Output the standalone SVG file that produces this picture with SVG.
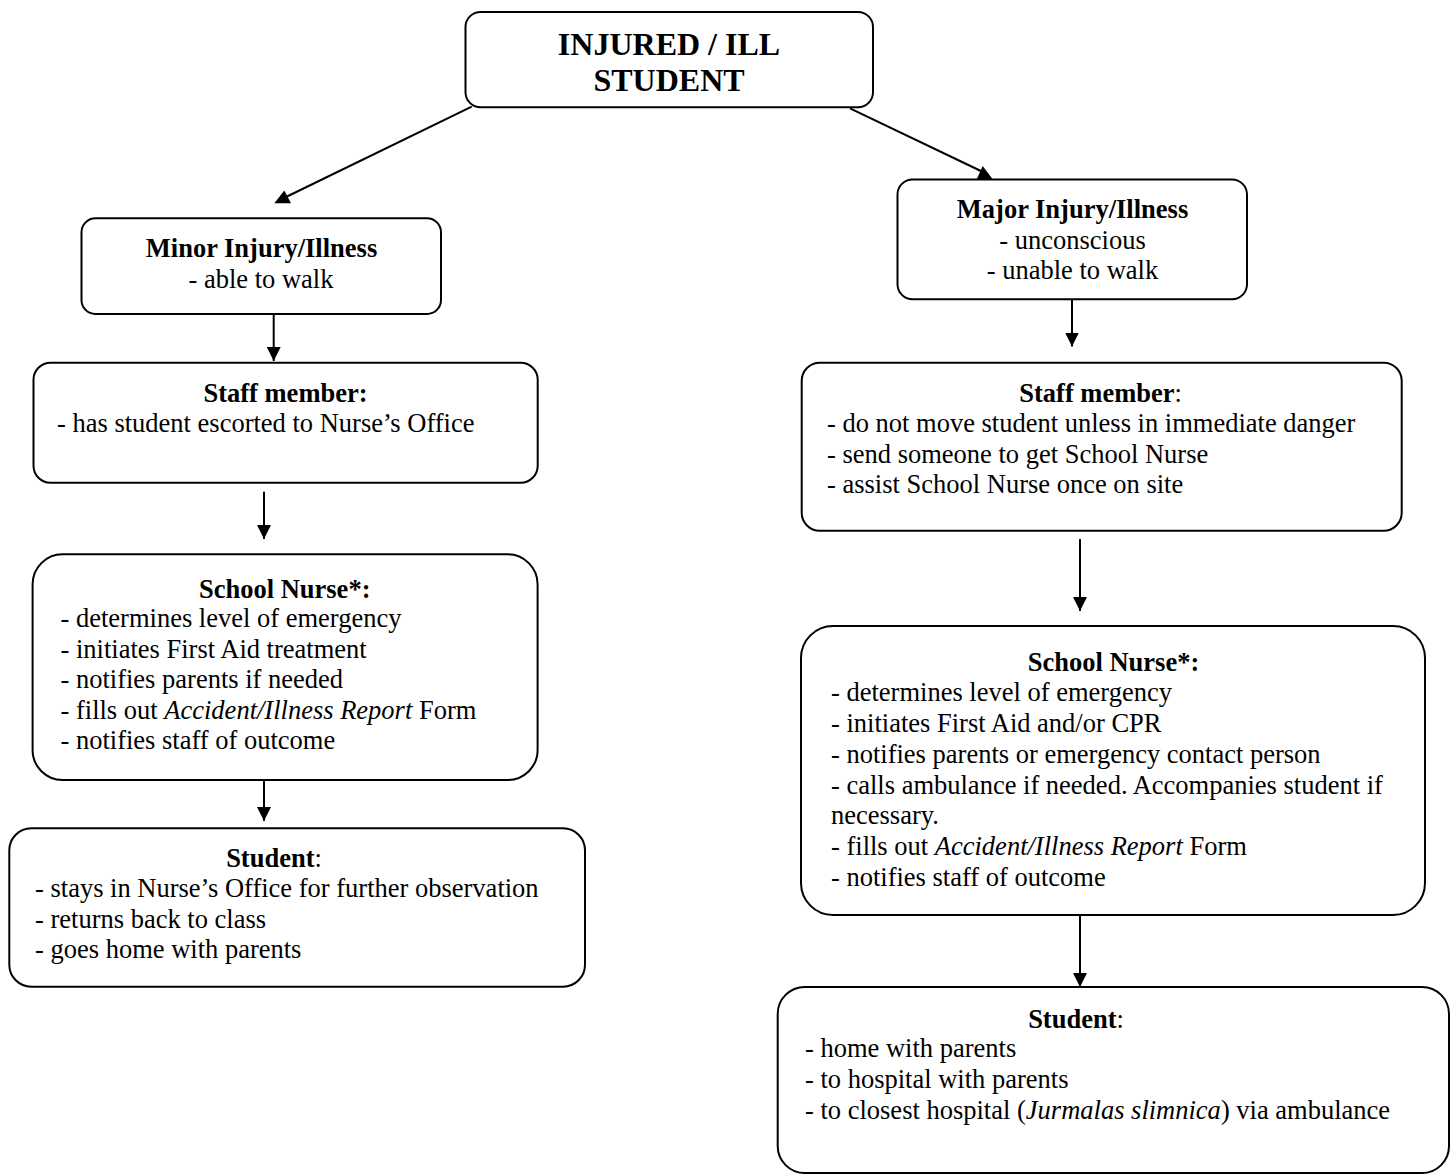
<svg xmlns="http://www.w3.org/2000/svg" width="1455" height="1175" viewBox="0 0 1455 1175">
<defs>
<marker id="ah" viewBox="0 0 14 14" refX="14" refY="7" markerWidth="14" markerHeight="14" markerUnits="userSpaceOnUse" orient="auto">
<path d="M0,0 L14,7 L0,14 z" fill="#000"/>
</marker>
<style>
.box{fill:#fff;stroke:#000;stroke-width:2}
.t{font-family:"Liberation Serif","Times New Roman",serif;font-size:26.5px;fill:#000}
.b{font-weight:bold}
.i{font-style:italic}
.c{text-anchor:middle}
.big{font-size:32px;font-weight:bold}
.con{stroke:#000;stroke-width:2;fill:none}
.con-v{stroke:#000;stroke-width:2;fill:none;marker-end:url(#ah)}
</style>
</defs>
<rect width="1455" height="1175" fill="#fff"/>

<g id="connectors">
<line class="con" x1="471.7" y1="106.7" x2="286" y2="197"/>
<polygon points="274.3,203.3 291,203.3 284.3,190.5" fill="#000"/>
<line class="con" x1="850" y1="108.3" x2="983" y2="172"/>
<polygon points="976.7,179.3 992.7,179.3 982.7,166" fill="#000"/>
<line class="con-v" x1="273.7" y1="314" x2="273.7" y2="361"/>
<line class="con-v" x1="264" y1="491.7" x2="264" y2="539"/>
<line class="con-v" x1="264" y1="780" x2="264" y2="821"/>
<line class="con-v" x1="1072" y1="299" x2="1072" y2="346.5"/>
<line class="con-v" x1="1080" y1="539" x2="1080" y2="611"/>
<line class="con-v" x1="1080" y1="915" x2="1080" y2="987"/>
</g>

<g id="injured">
<rect class="box" x="465.5" y="12" width="407.5" height="95.3" rx="15"/>
<text class="t big c" x="669" y="55">INJURED / ILL</text>
<text class="t big c" x="669" y="91">STUDENT</text>
</g>

<g id="minor">
<rect class="box" x="81.5" y="218.3" width="359.5" height="95.7" rx="14"/>
<text class="t b c" x="261.5" y="257">Minor Injury/Illness</text>
<text class="t c" x="261" y="287.5">- able to walk</text>
</g>

<g id="major">
<rect class="box" x="897.5" y="179.5" width="349.5" height="119.8" rx="15"/>
<text class="t b c" x="1072.5" y="218">Major Injury/Illness</text>
<text class="t c" x="1072.5" y="248.5">- unconscious</text>
<text class="t c" x="1072.5" y="279">- unable to walk</text>
</g>

<g id="staff-left">
<rect class="box" x="33.5" y="362.7" width="504.2" height="120" rx="17"/>
<text class="t b c" x="285.5" y="401.7">Staff member:</text>
<text class="t" x="57" y="431.5">- has student escorted to Nurse’s Office</text>
</g>

<g id="staff-right">
<rect class="box" x="801.7" y="362.7" width="600" height="168" rx="18"/>
<text class="t c" x="1100.6" y="401.8"><tspan class="b">Staff member</tspan>:</text>
<text class="t" x="827" y="432">- do not move student unless in immediate danger</text>
<text class="t" x="827" y="462.5">- send someone to get School Nurse</text>
<text class="t" x="827" y="493">- assist School Nurse once on site</text>
</g>

<g id="nurse-left">
<rect class="box" x="32.6" y="554.3" width="505" height="225.7" rx="30"/>
<text class="t b c" x="284.7" y="597.5">School Nurse*:</text>
<text class="t" x="60.5" y="627">- determines level of emergency</text>
<text class="t" x="60.5" y="657.5">- initiates First Aid treatment</text>
<text class="t" x="60.5" y="688">- notifies parents if needed</text>
<text class="t" x="60.5" y="718.5">- fills out <tspan class="i">Accident/Illness Report</tspan> Form</text>
<text class="t" x="60.5" y="749">- notifies staff of outcome</text>
</g>

<g id="nurse-right">
<rect class="box" x="801" y="626" width="624" height="289" rx="32"/>
<text class="t b c" x="1113.5" y="671">School Nurse*:</text>
<text class="t" x="831" y="701">- determines level of emergency</text>
<text class="t" x="831" y="732">- initiates First Aid and/or CPR</text>
<text class="t" x="831" y="763">- notifies parents or emergency contact person</text>
<text class="t" x="831" y="793.5">- calls ambulance if needed. Accompanies student if</text>
<text class="t" x="831" y="824">necessary.</text>
<text class="t" x="831" y="855">- fills out <tspan class="i">Accident/Illness Report</tspan> Form</text>
<text class="t" x="831" y="886">- notifies staff of outcome</text>
</g>

<g id="student-left">
<rect class="box" x="9.3" y="828.3" width="575.7" height="158.4" rx="22"/>
<text class="t c" x="274" y="866.7"><tspan class="b">Student</tspan>:</text>
<text class="t" x="35" y="897.3">- stays in Nurse’s Office for further observation</text>
<text class="t" x="35" y="927.5">- returns back to class</text>
<text class="t" x="35" y="958">- goes home with parents</text>
</g>

<g id="student-right">
<rect class="box" x="777.7" y="987" width="671.3" height="186" rx="27"/>
<text class="t c" x="1076" y="1028"><tspan class="b">Student</tspan>:</text>
<text class="t" x="805" y="1057">- home with parents</text>
<text class="t" x="805" y="1088">- to hospital with parents</text>
<text class="t" x="805" y="1118.5">- to closest hospital (<tspan class="i">Jurmalas slimnica</tspan>) via ambulance</text>
</g>
</svg>
